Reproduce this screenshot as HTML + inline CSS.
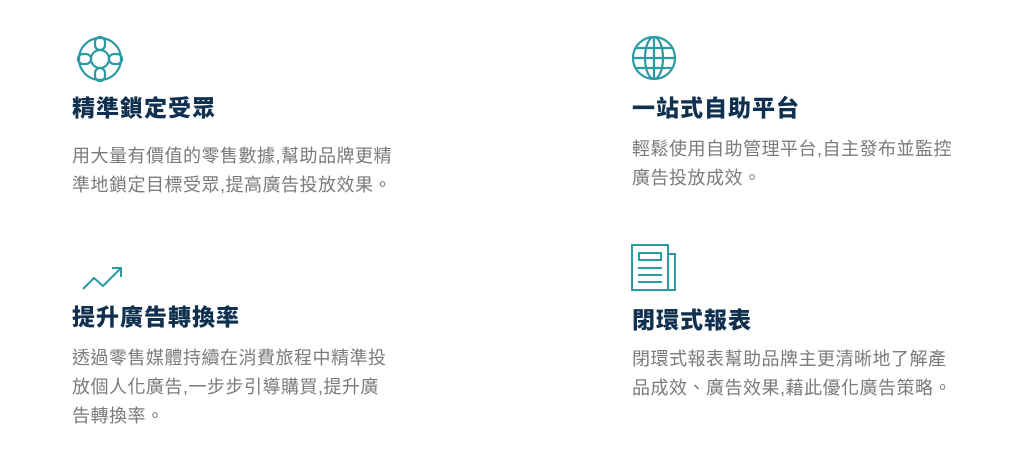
<!DOCTYPE html>
<html><head><meta charset="utf-8"><style>
body{margin:0;width:1024px;height:476px;background:#fff;position:relative;overflow:hidden;font-family:"Liberation Sans","Noto Sans CJK TC",sans-serif}
.t{position:absolute;font-size:23px;font-weight:900;color:#10304f;letter-spacing:1px;line-height:30px;white-space:nowrap}
.b{position:absolute;font-size:18px;color:#7a7a7a;letter-spacing:0.5px;line-height:29px;white-space:nowrap}
svg{position:absolute}
</style></head><body>
<svg style="left:76px;top:35px" width="48" height="48" viewBox="0 0 48 48" fill="none" stroke="#2a9aa3" stroke-width="2.2">
<circle cx="24" cy="24" r="21"/><circle cx="24" cy="24" r="9"/>
<rect x="19" y="2" width="10" height="13" rx="5"/><rect x="19" y="33" width="10" height="13" rx="5"/>
<rect x="2" y="19" width="13" height="10" rx="5"/><rect x="33" y="19" width="13" height="10" rx="5"/>
</svg>
<div class="t" style="left:72px;top:93px">精準鎖定受眾</div>
<div class="b" style="left:72px;top:142px">用大量有價值的零售數據,幫助品牌更精<br>準地鎖定目標受眾,提高廣告投放效果。</div>

<svg style="left:631px;top:35px" width="46" height="46" viewBox="0 0 46 46" fill="none" stroke="#2a9aa3" stroke-width="2.2">
<circle cx="23" cy="23" r="21"/><ellipse cx="23" cy="23" rx="9" ry="21"/><line x1="23" y1="2" x2="23" y2="44"/>
<line x1="2" y1="23" x2="44" y2="23"/><path d="M5 13H41M5 33H41"/>
</svg>
<div class="t" style="left:632px;top:93px">一站式自助平台</div>
<div class="b" style="left:632px;top:135px">輕鬆使用自助管理平台,自主發布並監控<br>廣告投放成效。</div>

<svg style="left:82px;top:265px" width="42" height="26" viewBox="0 0 42 26" fill="none" stroke="#2a9aa3" stroke-width="2">
<path d="M1 24L12 13L21 21L39 3"/><path d="M30 3H39V12"/>
</svg>
<div class="t" style="left:72px;top:302px">提升廣告轉換率</div>
<div class="b" style="left:72px;top:344px">透過零售媒體持續在消費旅程中精準投<br>放個人化廣告,一步步引導購買,提升廣<br>告轉換率。</div>

<svg style="left:631px;top:244px" width="46" height="48" viewBox="0 0 46 48" fill="none" stroke="#2a9aa3" stroke-width="2">
<rect x="1" y="1" width="36" height="45"/><path d="M37 10H44V46H37"/>
<rect x="8" y="9" width="22" height="7"/><path d="M7 24H31M7 31H31M7 38H31"/>
</svg>
<div class="t" style="left:632px;top:305px">閉環式報表</div>
<div class="b" style="left:632px;top:345px">閉環式報表幫助品牌主更清晰地了解產<br>品成效、廣告效果,藉此優化廣告策略。</div>
</body></html>
